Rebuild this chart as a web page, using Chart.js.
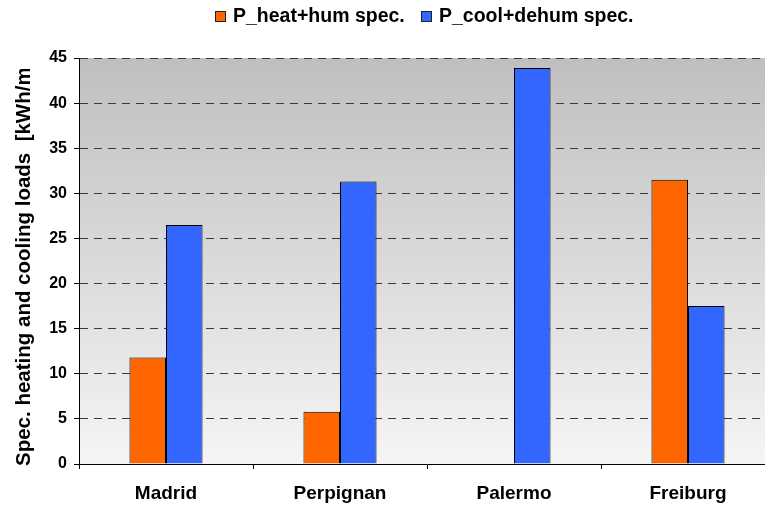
<!DOCTYPE html>
<html lang="en">
<head>
    <meta charset="UTF-8">
    <title>Spec. heating and cooling loads</title>
    <script src="https://cdn.jsdelivr.net/npm/chart.js"></script>
    <style>
        html, body {
            margin: 0;
            padding: 0;
            overflow: hidden;
            background: #fff;
            font-family: "Liberation Sans", Arial, sans-serif;
        }
        .wrap {
            position: relative;
            width: 780px;
            height: 506px;
        }
        .legend {
            position: absolute;
            top: 0;
            left: 0;
            font-weight: bold;
            font-size: 19.5px;
            color: #000;
        }
        .legend .box {
            position: absolute;
            top: 11px;
            width: 9px;
            height: 9px;
            border: 1px solid #222;
        }
        .legend .txt {
            position: absolute;
            top: 4px;
            white-space: nowrap;
            line-height: 22px;
        }
    </style>
</head>
<body>
    <div class="wrap">
        <canvas id="loadsChart"></canvas>
        <div class="legend">
            <span class="box" style="left:215px;background:#FF6600"></span>
            <span class="txt" style="left:233px">P_heat+hum spec.</span>
            <span class="box" style="left:421px;background:#3366FF"></span>
            <span class="txt" style="left:439px">P_cool+dehum spec.</span>
        </div>
    </div>

    <script>
        const cities = ["Madrid", "Perpignan", "Palermo", "Freiburg"];
        const heatHum = [11.8, 5.8, 0, 31.5];
        const coolDehum = [26.5, 31.3, 43.9, 17.5];
        const yTitle = "Spec. heating and cooling loads  [kWh/m²a]";

        // grey gradient behind the plot
        const plotBg = {
            id: 'plotBg',
            beforeDraw(chart) {
                const { ctx, chartArea: a } = chart;
                const g = ctx.createLinearGradient(0, a.top, 0, a.bottom);
                g.addColorStop(0, '#bfbfbf');
                g.addColorStop(1, '#f5f5f5');
                ctx.save();
                ctx.fillStyle = g;
                ctx.fillRect(a.left, a.top, a.right - a.left, a.bottom - a.top);
                ctx.restore();
            }
        };

        // rotated axis title, cut off at the top like the original
        const axisTitle = {
            id: 'axisTitle',
            afterDraw(chart) {
                const ctx = chart.ctx;
                ctx.save();
                ctx.beginPath();
                ctx.rect(0, 69, 60, 437);
                ctx.clip();
                ctx.translate(24, 466);
                ctx.rotate(-Math.PI / 2);
                ctx.font = 'bold 20.5px "Liberation Sans", Arial, sans-serif';
                ctx.fillStyle = '#000';
                ctx.textAlign = 'left';
                ctx.textBaseline = 'middle';
                ctx.fillText(yTitle, 0, 0);
                ctx.restore();
            }
        };

        new Chart(document.getElementById('loadsChart'), {
            type: 'bar',
            data: {
                labels: cities,
                datasets: [{
                    label: 'P_heat+hum spec.',
                    data: heatHum,
                    backgroundColor: '#FF6600',
                    borderColor: '#000',
                    borderWidth: 1,
                    categoryPercentage: 0.42,
                    barPercentage: 1
                }, {
                    label: 'P_cool+dehum spec.',
                    data: coolDehum,
                    backgroundColor: '#3366FF',
                    borderColor: '#000',
                    borderWidth: 1,
                    categoryPercentage: 0.42,
                    barPercentage: 1
                }]
            },
            options: {
                responsive: true,
                maintainAspectRatio: false,
                animation: false,
                layout: { padding: { top: 58, right: 5, left: 0, bottom: 0 } },
                plugins: {
                    legend: { display: false },
                    tooltip: { enabled: false }
                },
                scales: {
                    x: {
                        afterFit(s) { s.height = 42; },
                        grid: {
                            drawOnChartArea: false,
                            drawTicks: true,
                            tickLength: 5,
                            color: '#000',
                            tickColor: '#000'
                        },
                        border: { color: '#000', width: 1 },
                        ticks: {
                            color: '#000',
                            padding: 13,
                            font: { family: '"Liberation Sans", Arial, sans-serif', size: 19, weight: 'bold' }
                        }
                    },
                    y: {
                        min: 0,
                        max: 45,
                        afterFit(s) { s.width = 79; },
                        grid: {
                            color: '#3a3a3a',
                            tickColor: '#000',
                            tickLength: 5
                        },
                        border: { color: '#000', width: 1, dash: [8, 6] },
                        ticks: {
                            stepSize: 5,
                            color: '#000',
                            padding: 7,
                            font: { family: '"Liberation Sans", Arial, sans-serif', size: 16, weight: 'bold' }
                        }
                    }
                }
            },
            plugins: [plotBg, axisTitle]
        });
    </script>
</body>
</html>
